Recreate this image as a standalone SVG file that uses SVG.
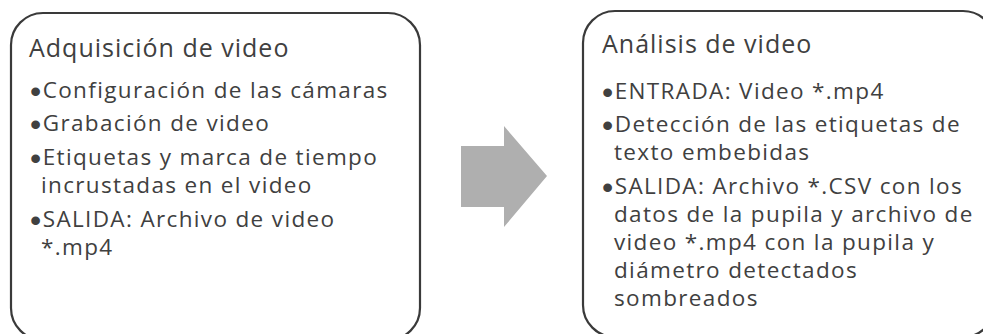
<svg xmlns="http://www.w3.org/2000/svg" width="983" height="334" viewBox="0 0 983 334">
<style>
.box{fill:#ffffff;stroke:#3a3a3a;stroke-width:2.2}
.t{font-family:"Open Sans","Liberation Sans",sans-serif;fill:#404040}
.title{font-size:25px;letter-spacing:1px}
.item{font-size:22.5px;letter-spacing:1.35px}
.b{font-family:"Liberation Sans",Arial,sans-serif;font-size:32px;letter-spacing:0}
.arrow{fill:#afafaf}
</style>
<rect width="983" height="334" fill="#ffffff"/>
<g id="node-adquisicion">
<rect class="box" x="11" y="13" width="409" height="327" rx="32" ry="32"/>
<text class="t title" x="29" y="57">Adquisición de video</text>
<text class="t item" x="30" y="98"><tspan class="b" baseline-shift="-4">•</tspan><tspan dx="1.5">Configuración de las cámaras</tspan></text>
<text class="t item" x="30" y="131"><tspan class="b" baseline-shift="-4">•</tspan><tspan dx="1.5">Grabación de video</tspan></text>
<text class="t item" x="30" y="165"><tspan class="b" baseline-shift="-4">•</tspan><tspan dx="1.5">Etiquetas y marca de tiempo</tspan></text>
<text class="t item" x="41" y="193">incrustadas en el video</text>
<text class="t item" x="30" y="227"><tspan class="b" baseline-shift="-4">•</tspan><tspan dx="1.5">SALIDA: Archivo de video</tspan></text>
<text class="t item" x="41" y="255">*.mp4</text>
</g>
<g id="connectors">
<polygon class="arrow" points="461,146 504,146 504,126 547,176 504,227 504,207 461,207"/>
</g>
<g id="node-analisis">
<rect class="box" x="583" y="11" width="412" height="326" rx="32" ry="32"/>
<text class="t title" x="602" y="53">Análisis de video</text>
<text class="t item" x="602" y="99"><tspan class="b" baseline-shift="-4">•</tspan><tspan dx="1.5">ENTRADA: Video *.mp4</tspan></text>
<text class="t item" x="602" y="132"><tspan class="b" baseline-shift="-4">•</tspan><tspan dx="1.5">Detección de las etiquetas de</tspan></text>
<text class="t item" x="614" y="160">texto embebidas</text>
<text class="t item" x="602" y="194"><tspan class="b" baseline-shift="-4">•</tspan><tspan dx="1.5">SALIDA: Archivo *.CSV con los</tspan></text>
<text class="t item" x="614" y="222">datos de la pupila y archivo de</text>
<text class="t item" x="614" y="250">video *.mp4 con la pupila y</text>
<text class="t item" x="614" y="278">diámetro detectados</text>
<text class="t item" x="614" y="306">sombreados</text>
</g>
</svg>
